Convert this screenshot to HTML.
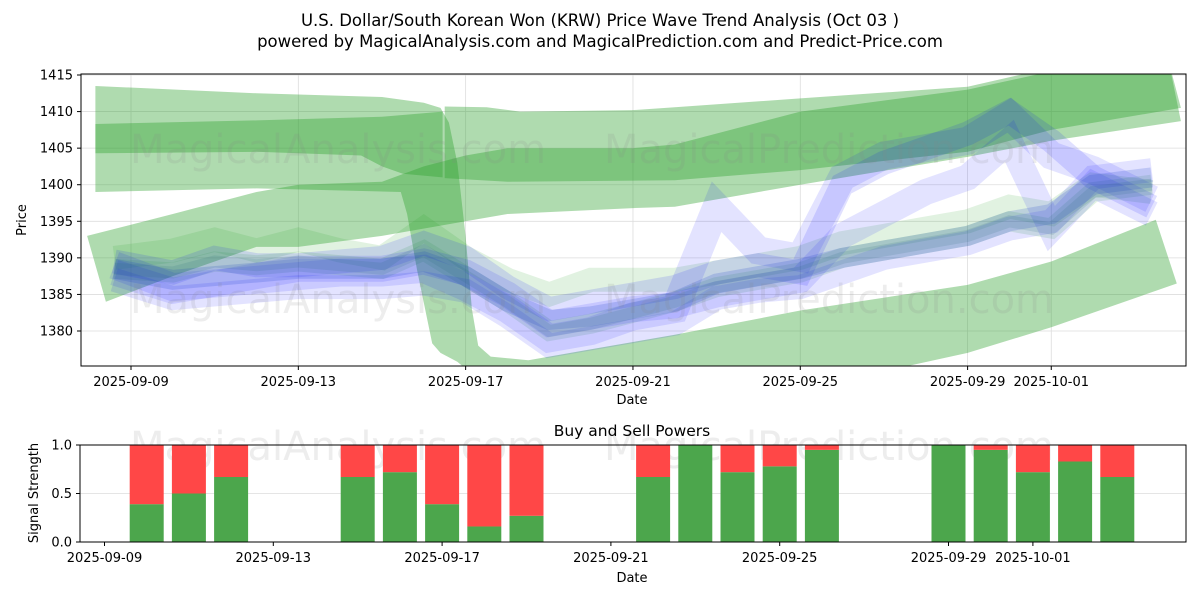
<!DOCTYPE html>
<html><head><meta charset="utf-8">
<style>
html,body{margin:0;padding:0;background:#fff;}
svg{display:block;font-family:"DejaVu Sans","Liberation Sans",sans-serif;}
</style></head>
<body>
<svg id="chart" width="1200" height="600" viewBox="0 0 1200 600" xmlns="http://www.w3.org/2000/svg">
<text x="600" y="26" font-size="16.5" text-anchor="middle">U.S. Dollar/South Korean Won (KRW) Price Wave Trend Analysis (Oct 03 )</text>
<text x="600" y="47" font-size="16.5" text-anchor="middle">powered by MagicalAnalysis.com and MagicalPrediction.com and Predict-Price.com</text>
<defs><clipPath id="clipTop"><rect x="81" y="74" width="1105" height="292"/></clipPath></defs>
<g id="topGrid"></g>
<g id="topMarks" clip-path="url(#clipTop)"></g>
<g font-size="40" fill="#888" fill-opacity="0.15">
<text x="130" y="163">MagicalAnalysis.com</text>
<text x="604" y="163">MagicalPrediction.com</text>
<text x="130" y="313">MagicalAnalysis.com</text>
<text x="604" y="313">MagicalPrediction.com</text>
<text x="130" y="460">MagicalAnalysis.com</text>
<text x="604" y="460">MagicalPrediction.com</text>
</g>
<rect x="81" y="74" width="1105" height="292" fill="none" stroke="#000" stroke-width="1"/>
<g id="topAxes" font-size="13"></g>
<text x="632" y="404" font-size="13" text-anchor="middle">Date</text>
<text transform="translate(26,220) rotate(-90)" font-size="13" text-anchor="middle">Price</text>

<text x="632" y="436" font-size="15.5" text-anchor="middle">Buy and Sell Powers</text>
<g id="botGrid"></g>
<g id="botMarks"></g>
<rect x="80" y="445" width="1106" height="97" fill="none" stroke="#000" stroke-width="1"/>
<g id="botAxes" font-size="13"></g>
<text x="632" y="582" font-size="13" text-anchor="middle">Date</text>
<text transform="translate(38,493) rotate(-90)" font-size="13" text-anchor="middle">Signal Strength</text>
</svg>
<script>
// ---- data (day = day of September; Oct 1 = 31) ----
const priceTicks = [1380,1385,1390,1395,1400,1405,1410,1415];
const dateTickDays = [9,13,17,21,25,29,31];
const dateTickLabels = ["2025-09-09","2025-09-13","2025-09-17","2025-09-21","2025-09-25","2025-09-29","2025-10-01"];

// band A (falls mid-chart)
const bandATopDays = [8.15,12,15,16,16.4,16.6,16.8,17.0,17.15,17.3,17.6,18.5,20,21,22,25,29,31,33.5];
const bandATopVals = [1413.5,1412.5,1412,1411.2,1410.5,1408.5,1403,1393,1383,1378,1376.5,1376,1377.5,1378.5,1379.5,1382.8,1386.3,1389.5,1395.2];
const bandABotDays = [8.15,12,15.45,15.6,15.84,16.2,16.4,16.8,18,21,25,29,31,34.0];
const bandABotVals = [1399,1399.5,1399,1396,1388.3,1378.3,1377,1375.8,1370,1370,1372,1377,1380.5,1386.5];
// band C (narrow, left)
const bandCTopDays = [8.15,12,15,16.45];
const bandCTopVals = [1408.3,1408.8,1409.3,1410];
const bandCBotDays = [8.15,12,14.5,15,15.5,16.45];
const bandCBotVals = [1404.3,1404.5,1404,1402.5,1401.5,1401];
// band E (upper right)
const bandETopDays = [16.5,17.5,18.3,21,22,25,29,31,33.8];
const bandETopVals = [1410.7,1410.6,1410,1410.2,1410.6,1411.8,1413.4,1416,1417];
const bandEBotDays = [16.5,18,22,25,29,31,34.1];
const bandEBotVals = [1400.9,1400.4,1400.6,1402,1404.5,1407.5,1410.5];
// band D (rising lower)
const bandDTopDays = [7.95,10,12,13,15,16,17,18,21,22,25,29,31,33.8];
const bandDTopVals = [1393,1396,1399,1400,1400.4,1402.5,1404,1405,1405,1405.5,1410,1413,1415.5,1417];
const bandDBotDays = [8.4,10,12,13,15,17,18,21,22,25,29,31,34.1];
const bandDBotVals = [1384,1387.5,1391.5,1391.5,1393,1395,1396,1396.8,1397,1400,1403.8,1406,1408.7];

const waveDays = [8.6,10,11,12,13,14,15,16,17,18,19,20,21,22,23,24,25,26,27,28,29,30,31,32,33.4];
const blue1 = [1388.5,1387,1387.5,1388,1388.5,1388.5,1388.5,1389.5,1387.5,1384,1381.5,1382,1383,1384,1386.5,1387.5,1388.5,1390,1391,1392,1393,1395,1396,1400,1401];
const blue2 = [1389,1386,1386.5,1387,1387.5,1388,1388,1388.5,1386,1383,1379,1380,1382,1383,1397,1391,1390,1401,1404,1405,1406,1409.5,1404,1402,1398];
const blue3 = [1388,1385.5,1386.5,1387.5,1388.5,1388.5,1388.5,1389.5,1388,1385,1381,1382,1383,1383.5,1385,1386,1387,1393,1396,1399,1401,1406,1394,1400,1396];
const blue4 = [1389.5,1388,1390,1389,1389,1389.5,1390,1392,1390,1386,1383,1384,1385,1386,1388,1389,1388,1400,1403,1405,1407,1410,1406,1401,1397];
const blue5 = [1387,1384.5,1385,1385.5,1386,1386,1386,1386.5,1385.5,1382,1378,1379,1380,1381,1384.5,1385.5,1386,1388,1390,1391,1392,1394,1395,1401,1402];
const teal1 = [1390,1391,1392.5,1391,1392.5,1391,1390,1394,1390,1387,1385,1387,1387,1387,1388,1389,1390,1392,1393,1394,1395,1397,1396,1400,1399];
const teal2 = [1388.5,1388,1389.5,1389,1389.5,1389,1388.5,1391,1387.5,1384,1380,1381,1382.5,1384,1386,1387,1388,1390,1391,1392,1393,1395,1394,1399,1400];

const powerDays = [10,11,12,15,16,17,18,19,22,23,24,25,26,29,30,31,32,33];
const buyPower = [0.39,0.50,0.67,0.67,0.72,0.39,0.16,0.27,0.67,1.0,0.72,0.78,0.95,1.0,0.95,0.72,0.83,0.67];
const powerTicks = [0,0.5,1];
const powerTickLabels = ["0.0","0.5","1.0"];

// ---- scales ----
const NS = "http://www.w3.org/2000/svg";
function xTop(d){ return 131 + (d - 9) * 41.83; }
function yTop(v){ return 331 - (v - 1380) * 7.314; }
function xBot(d){ return 104.5 + (d - 9) * 42.2; }
function yBot(v){ return 542 - v * 97; }
function mk(tag, attrs, parent){
  const e = document.createElementNS(NS, tag);
  for (const k in attrs) e.setAttribute(k, attrs[k]);
  parent.appendChild(e);
  return e;
}
const topGrid = document.getElementById('topGrid');
const topAxes = document.getElementById('topAxes');
const topMarks = document.getElementById('topMarks');
const botGrid = document.getElementById('botGrid');
const botAxes = document.getElementById('botAxes');
const botMarks = document.getElementById('botMarks');

priceTicks.forEach(v => {
  const y = yTop(v);
  const g = mk('line', {x1:81, x2:1186, y1:y, y2:y, stroke:'#ddd', 'stroke-width':0.8}, topGrid);
  
  
  mk('line', {x1:77, x2:81, y1:y, y2:y, stroke:'#000'}, topAxes);
  const t = mk('text', {x:73, y:y+4.5, 'text-anchor':'end'}, topAxes);
  t.textContent = v;
  
  
});
dateTickDays.forEach((d, i) => {
  const x = xTop(d);
  const g = mk('line', {x1:x, x2:x, y1:74, y2:366, stroke:'#ddd', 'stroke-width':0.8}, topGrid);
  
  
  mk('line', {x1:x, x2:x, y1:366, y2:370, stroke:'#000'}, topAxes);
  const t = mk('text', {x:x, y:386, 'text-anchor':'middle'}, topAxes);
  t.textContent = dateTickLabels[i];
  
  
});

const GREEN = 'rgb(44,160,44)';
function area(td, tv, bd, bv, color, opacity, name){
  const pts = [];
  td.forEach((d, i) => pts.push(xTop(d).toFixed(1) + ',' + yTop(tv[i]).toFixed(1)));
  for (let i = bd.length - 1; i >= 0; i--) pts.push(xTop(bd[i]).toFixed(1) + ',' + yTop(bv[i]).toFixed(1));
  const p = mk('polygon', {points:pts.join(' '), fill:color, 'fill-opacity':opacity}, topMarks);
  
  
}
function band(days, vals, color, width, opacity, name){
  const pts = days.map((d, i) => xTop(d).toFixed(1) + ',' + yTop(vals[i]).toFixed(1)).join(' ');
  const p = mk('polyline', {points:pts, fill:'none', stroke:color, 'stroke-width':width, 'stroke-opacity':opacity, 'stroke-linejoin':'miter', 'stroke-linecap':'butt'}, topMarks);
  
  
}
area(bandATopDays, bandATopVals, bandABotDays, bandABotVals, GREEN, 0.38, 'band-a');
area(bandCTopDays, bandCTopVals, bandCBotDays, bandCBotVals, GREEN, 0.38, 'band-c');
area(bandETopDays, bandETopVals, bandEBotDays, bandEBotVals, GREEN, 0.38, 'band-e');
area(bandDTopDays, bandDTopVals, bandDBotDays, bandDBotVals, GREEN, 0.38, 'band-d');
band(waveDays, teal1, GREEN, 24, 0.14, 'wave-green-1');
band(waveDays, teal2, GREEN, 20, 0.14, 'wave-green-2');
band(waveDays, blue5, 'rgb(0,0,255)', 24, 0.11, 'wave-blue-5');
band(waveDays, blue3, 'rgb(0,0,255)', 26, 0.11, 'wave-blue-3');
band(waveDays, blue2, 'rgb(0,0,255)', 28, 0.11, 'wave-blue-2');
band(waveDays, blue4, 'rgb(0,0,255)', 24, 0.12, 'wave-blue-4');
band(waveDays, blue1, 'rgb(20,60,200)', 20, 0.18, 'wave-blue-1');
band(waveDays, teal2, 'rgb(40,110,120)', 12, 0.15, 'wave-teal');

powerTicks.forEach((v, i) => {
  const y = yBot(v);
  const g = mk('line', {x1:80, x2:1186, y1:y, y2:y, stroke:'#ddd', 'stroke-width':0.8}, botGrid);
  
  
  mk('line', {x1:76, x2:80, y1:y, y2:y, stroke:'#000'}, botAxes);
  const t = mk('text', {x:72, y:y+4.5, 'text-anchor':'end'}, botAxes);
  t.textContent = powerTickLabels[i];
  
  
});
dateTickDays.forEach((d, i) => {
  const x = xBot(d);
  mk('line', {x1:x, x2:x, y1:542, y2:546, stroke:'#000'}, botAxes);
  const t = mk('text', {x:x, y:562, 'text-anchor':'middle'}, botAxes);
  t.textContent = dateTickLabels[i];
  
  
});
powerDays.forEach((d, i) => {
  const cx = xBot(d), w = 34;
  const b = buyPower[i];
  const g = mk('rect', {x:cx - w/2, y:yBot(b), width:w, height:yBot(0) - yBot(b), fill:'#4ca64c'}, botMarks);
  
  
  const r = mk('rect', {x:cx - w/2, y:yBot(1), width:w, height:yBot(b) - yBot(1), fill:'#ff4747'}, botMarks);
  
  
});
</script>
</body></html>
